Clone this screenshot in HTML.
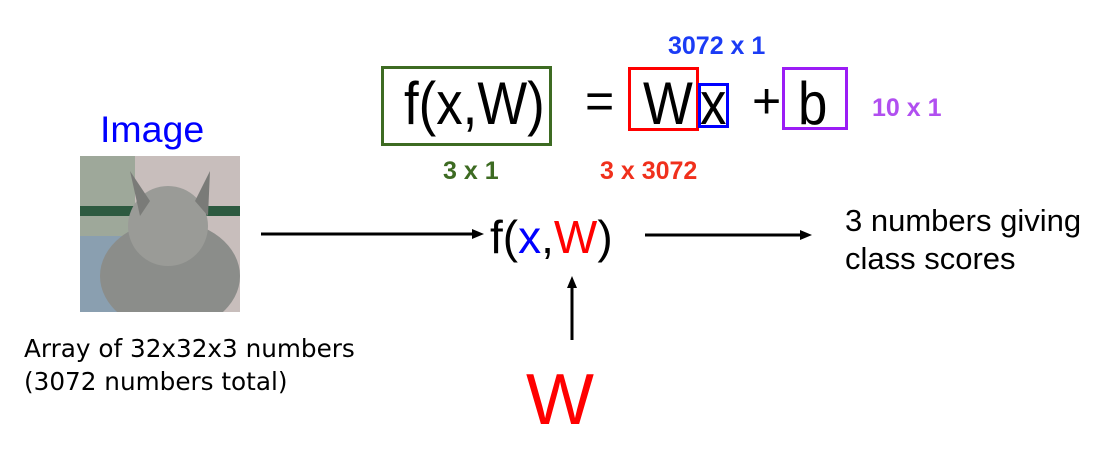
<!DOCTYPE html>
<html><head><style>
body{margin:0;width:1113px;height:468px;background:#fff;position:relative;overflow:hidden;font-family:"Liberation Sans",sans-serif}
.a{position:absolute;white-space:nowrap;line-height:1}
.box{position:absolute;box-sizing:border-box}
.b{font-weight:bold;font-size:25px}
.c{transform:scale(.88,1);transform-origin:left}
</style></head><body>
<div class="box" style="left:381px;top:66px;width:171px;height:80px;border:3px solid #3d6b22"></div>
<div class="a c" style="left:404px;top:74px;font-size:60px">f(x,W)</div>
<div class="a" style="left:585px;top:76px;font-size:50px">=</div>
<div class="box" style="left:628px;top:67px;width:71px;height:64px;border:3px solid #f00"></div>
<div class="a c" style="left:643px;top:74px;font-size:60px">W</div>
<div class="box" style="left:698px;top:83px;width:31px;height:45px;border:3px solid #00f"></div>
<div class="a c" style="left:700px;top:74px;font-size:60px">x</div>
<div class="a" style="left:752px;top:76px;font-size:50px">+</div>
<div class="box" style="left:782px;top:67px;width:66px;height:63px;border:3px solid #9b1cf5"></div>
<div class="a c" style="left:798px;top:74px;font-size:60px">b</div>
<div class="a b" style="left:668px;top:34px;color:#1b3cf5">3072 x 1</div>
<div class="a b" style="left:872px;top:96px;color:#b14ff0">10 x 1</div>
<div class="a b" style="left:443px;top:159px;color:#3d6b22">3 x 1</div>
<div class="a b" style="left:600px;top:159px;color:#f0301c">3 x 3072</div>
<div class="a" style="left:100px;top:111px;font-size:37.5px;color:#00f">Image</div>
<svg class="box" style="left:80px;top:156px" width="160" height="156">
<rect width="160" height="156" fill="#c8bebc"/>
<rect width="55" height="156" fill="#9ea89a"/>
<rect y="50" width="160" height="10" fill="#2d5a40"/>
<rect y="80" width="55" height="76" fill="#8a9fb0"/>
<ellipse cx="90" cy="120" rx="70" ry="55" fill="#8b8d8a"/>
<ellipse cx="88" cy="70" rx="40" ry="40" fill="#9a9b97"/>
<polygon points="50,15 70,45 60,60" fill="#7a7b78"/>
<polygon points="130,15 115,45 128,60" fill="#7a7b78"/>
</svg>
<div class="a" style="left:24px;top:337px;font-size:24.7px;font-family:'DejaVu Sans',sans-serif">Array of 32x32x3 numbers</div>
<div class="a" style="left:24px;top:370px;font-size:24.7px;font-family:'DejaVu Sans',sans-serif">(3072 numbers total)</div>
<div class="a" style="left:490px;top:214px;font-size:46px">f(<span style="color:#00f">x</span>,<span style="color:#f00">W</span>)</div>
<svg class="box" style="left:0;top:0" width="1113" height="468">
<g stroke="#000" stroke-width="3"><line x1="261" y1="234" x2="474" y2="234"/><line x1="645" y1="235" x2="802" y2="235"/><line x1="572" y1="340" x2="572" y2="286"/></g>
<polygon points="484,234 472,229 472,239"/><polygon points="812,235 800,230 800,240"/><polygon points="572,276 567,288 577,288"/>
</svg>
<div class="a" style="left:845px;top:205px;font-size:31px">3 numbers giving</div>
<div class="a" style="left:845px;top:243px;font-size:31px">class scores</div>
<div class="a" style="left:526px;top:364px;font-size:72px;color:#f00">W</div>
</body></html>
